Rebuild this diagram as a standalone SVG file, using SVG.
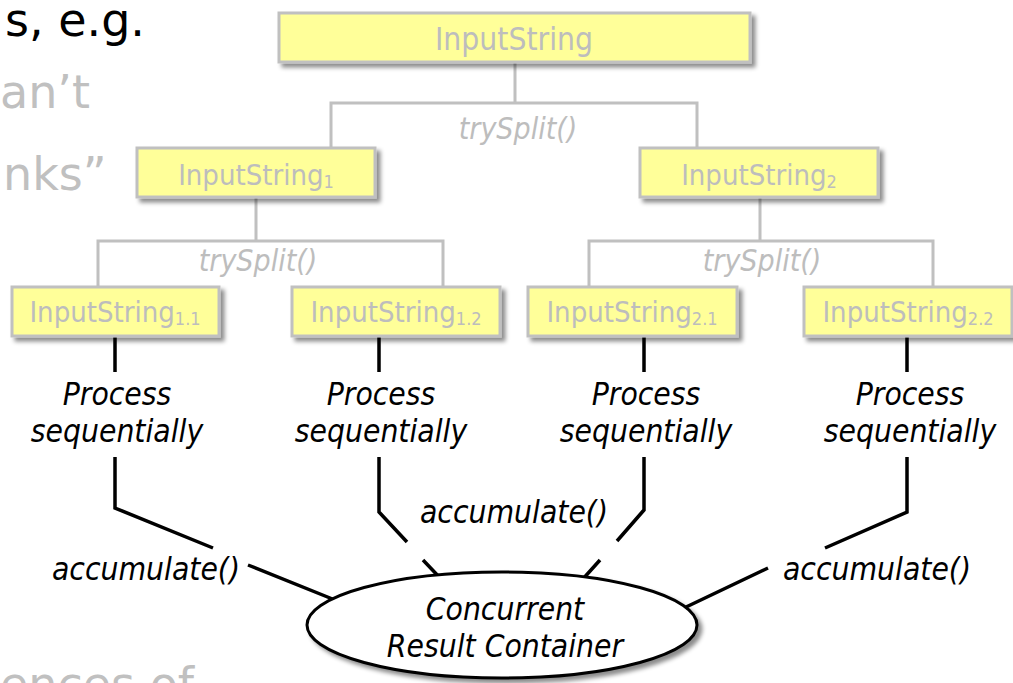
<svg xmlns="http://www.w3.org/2000/svg" width="1013" height="683" viewBox="0 0 1013 683">
  <defs>
    <filter id="shadow" x="-10%" y="-20%" width="130%" height="160%">
      <feDropShadow dx="4" dy="4" stdDeviation="2" flood-color="#000" flood-opacity="0.45"/>
    </filter>
  </defs>
  <style>
    .bg { font-family: "DejaVu Sans", "Liberation Sans", sans-serif; font-size: 46px; }
    .box { fill: #ffff99; stroke: #c0c0c0; stroke-width: 3; filter: url(#shadow); }
    .boxtxt { font-family: "DejaVu Sans Condensed", "DejaVu Sans", sans-serif; font-stretch: condensed; fill: #bdbdbd; text-anchor: middle; }
    .split { fill: none; stroke: #c0c0c0; stroke-width: 3; }
    .split-label { font-family: "DejaVu Sans Condensed", "DejaVu Sans", sans-serif; font-stretch: condensed; font-style: italic; font-size: 30px; fill: #bdbdbd; text-anchor: middle; }
    .flow { fill: none; stroke: #000; stroke-width: 3.5; }
    .label { font-family: "DejaVu Sans Condensed", "DejaVu Sans", sans-serif; font-stretch: condensed; font-style: italic; font-size: 31.5px; fill: #000; text-anchor: middle; }
    .container { fill: #fff; stroke: #000; stroke-width: 3; filter: url(#shadow); }
  </style>

  <!-- slide text behind the diagram -->
  <g id="slide-text" class="bg">
    <text x="145" y="36" text-anchor="end" fill="#000">s, e.g.</text>
    <text x="0" y="108" fill="#c0c0c0">an’t</text>
    <text x="3" y="190" fill="#c0c0c0">nks”</text>
    <text x="0" y="700" fill="#c0c0c0">ences of</text>
  </g>

  <!-- connectors: split tree (grey) and processing / accumulate paths (black) -->
  <g id="connectors">
    <path class="split" d="M515 62V103M331 148V103H697V148"/>
    <path class="split" d="M256 197V241M98 287V241H443V287"/>
    <path class="split" d="M760 197V241M589 287V241H933V287"/>

    <path class="flow" d="M115 336V372M379 336V372M644 336V372M907 336V372"/>
    <path class="flow" d="M115 457V508L213 548M248 565L335 600"/>
    <path class="flow" d="M379 457V512L407 542M423 560L442 580"/>
    <path class="flow" d="M644 457V510L617 541M600 560L582 580"/>
    <path class="flow" d="M907 457V512L825 548M768 568L684 608"/>
  </g>

  <!-- split labels -->
  <g id="split-labels">
    <text class="split-label" x="518" y="139">trySplit()</text>
    <text class="split-label" x="258" y="271">trySplit()</text>
    <text class="split-label" x="762" y="271">trySplit()</text>
  </g>

  <g id="input">
    <rect class="box" x="279" y="13" width="471" height="49"/>
    <text class="boxtxt" x="514" y="50" font-size="31.5">InputString</text>
  </g>
  <g id="input-1">
    <rect class="box" x="137" y="148" width="238" height="49"/>
    <text class="boxtxt" x="256" y="185" font-size="29">InputString<tspan font-size="18" dy="3">1</tspan></text>
  </g>
  <g id="input-2">
    <rect class="box" x="640" y="148" width="238" height="49"/>
    <text class="boxtxt" x="759" y="185" font-size="29">InputString<tspan font-size="18" dy="3">2</tspan></text>
  </g>
  <g id="input-1-1">
    <rect class="box" x="12" y="287" width="207" height="49"/>
    <text class="boxtxt" x="115" y="322" font-size="29">InputString<tspan font-size="18" dy="3">1.1</tspan></text>
  </g>
  <g id="input-1-2">
    <rect class="box" x="292" y="287" width="208" height="49"/>
    <text class="boxtxt" x="396" y="322" font-size="29">InputString<tspan font-size="18" dy="3">1.2</tspan></text>
  </g>
  <g id="input-2-1">
    <rect class="box" x="528" y="287" width="209" height="49"/>
    <text class="boxtxt" x="632" y="322" font-size="29">InputString<tspan font-size="18" dy="3">2.1</tspan></text>
  </g>
  <g id="input-2-2">
    <rect class="box" x="804" y="287" width="208" height="49"/>
    <text class="boxtxt" x="908" y="322" font-size="29">InputString<tspan font-size="18" dy="3">2.2</tspan></text>
  </g>

  <g id="process-1-1"><text class="label" x="117" y="405">Process<tspan x="117" y="442">sequentially</tspan></text></g>
  <g id="process-1-2"><text class="label" x="381" y="405">Process<tspan x="381" y="442">sequentially</tspan></text></g>
  <g id="process-2-1"><text class="label" x="646" y="405">Process<tspan x="646" y="442">sequentially</tspan></text></g>
  <g id="process-2-2"><text class="label" x="910" y="405">Process<tspan x="910" y="442">sequentially</tspan></text></g>

  <g id="accumulate-labels">
    <text class="label" x="146" y="580">accumulate()</text>
    <text class="label" x="514" y="523">accumulate()</text>
    <text class="label" x="877" y="580">accumulate()</text>
  </g>

  <g id="result-container">
    <ellipse class="container" cx="502" cy="625" rx="195" ry="53"/>
    <text class="label" x="505" y="620">Concurrent<tspan x="505" y="657">Result Container</tspan></text>
  </g>
</svg>
